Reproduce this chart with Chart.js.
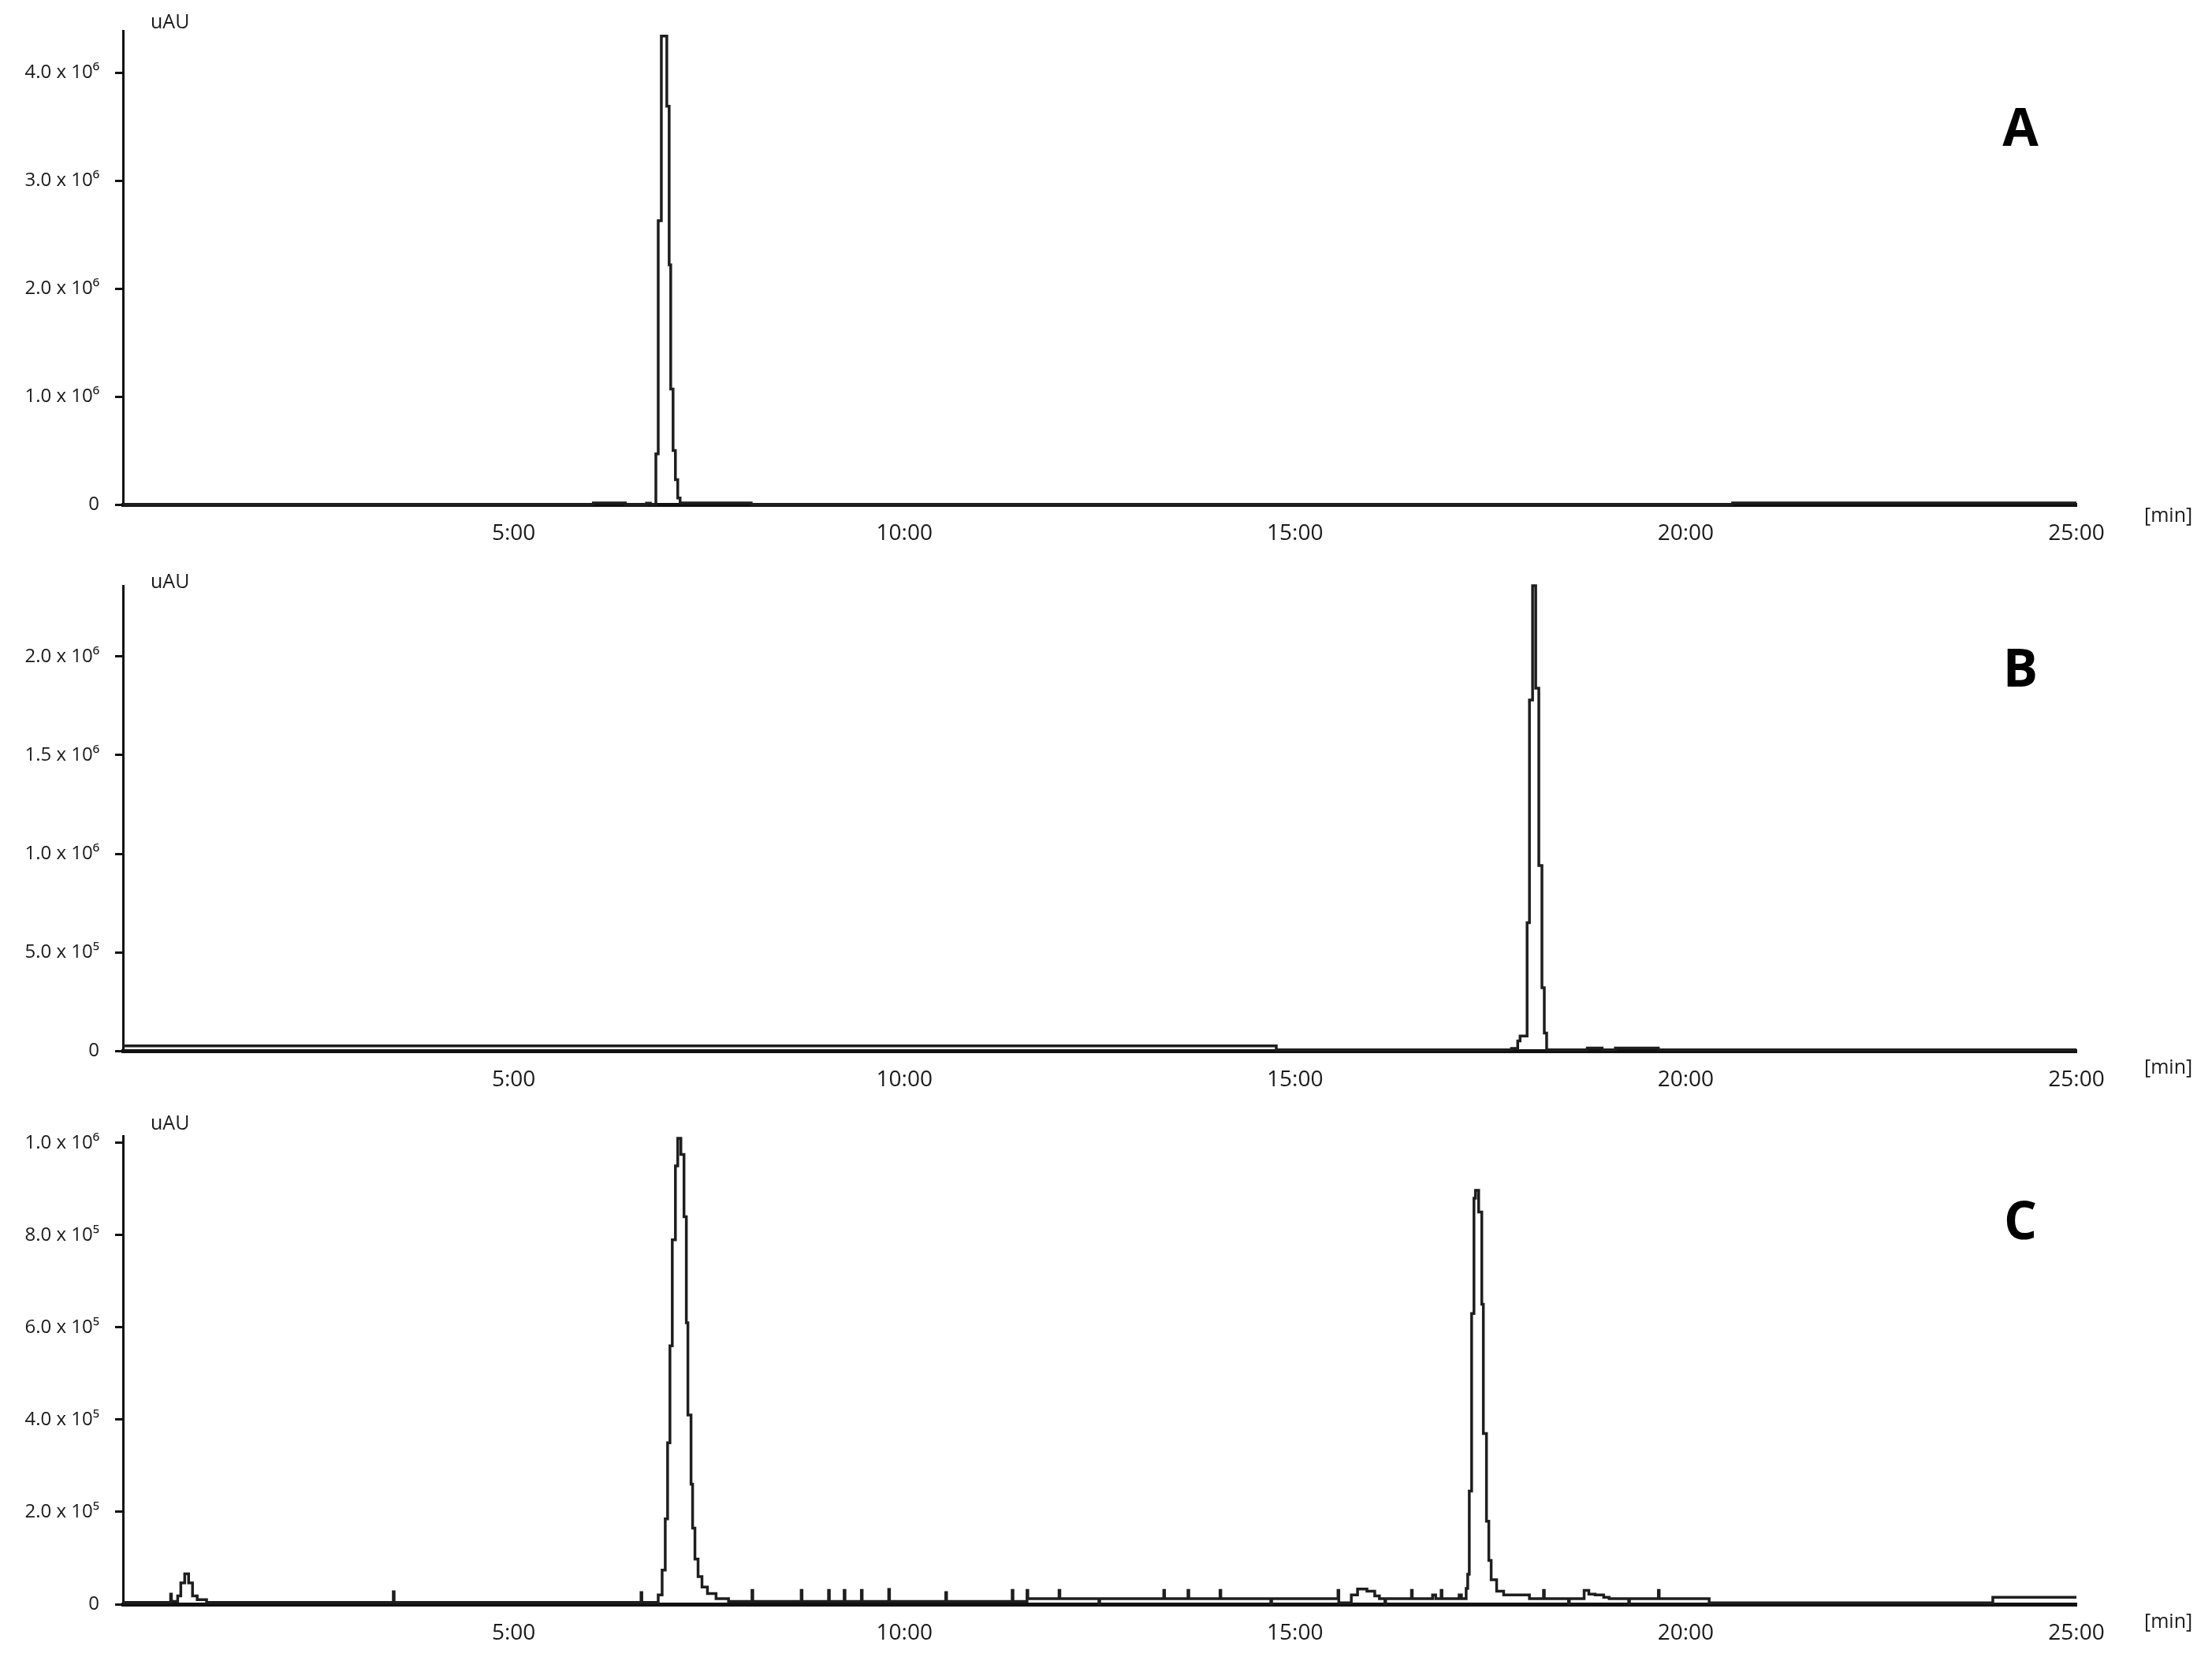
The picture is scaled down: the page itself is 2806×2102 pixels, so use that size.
<!DOCTYPE html>
<html>
<head>
<meta charset="utf-8">
<script src="https://cdn.jsdelivr.net/npm/chart.js@4.4.1/dist/chart.umd.min.js"></script>
<style>
body { margin: 0; background: #fff; width: 2806px; height: 2102px; overflow: hidden; }
canvas { position: absolute; left: 0; }
</style>
</head>
<body>
<canvas id="chartA" width="2806" height="700" style="top:0px"></canvas>
<canvas id="chartB" width="2806" height="700" style="top:700px"></canvas>
<canvas id="chartC" width="2806" height="702" style="top:1400px"></canvas>
<script>
// retention time axis (min)
const timeTicks = [5, 10, 15, 20, 25];
const timeLabels = ['5:00', '10:00', '15:00', '20:00', '25:00'];

// signal values in 10^6 uAU
const timeA = [0, 6.02, 6.43, 6.70, 6.75, 6.82, 6.85, 6.89, 6.96, 6.99, 7.01, 7.04, 7.07, 7.10, 7.13, 8.04, 20.6, 25.0];
const signalA = [0, 0.015, 0, 0.012, 0, 0.47, 2.63, 4.34, 3.69, 2.22, 1.07, 0.5, 0.23, 0.06, 0.015, 0, 0.015, 0.015];
const ticksA = [0, 1, 2, 3, 4];
const labelsA = ['0', '1.0 x 10⁶', '2.0 x 10⁶', '3.0 x 10⁶', '4.0 x 10⁶'];

const timeB = [0, 14.76, 17.77, 17.85, 17.88, 17.97, 18.00, 18.04, 18.08, 18.12, 18.16, 18.19, 18.22,
    18.74, 18.93, 19.10, 19.65, 25.0];
const signalB = [0.025, 0.005, 0.012, 0.05, 0.075, 0.65, 1.78, 2.36, 1.84, 0.94, 0.32, 0.09, 0.005,
    0.014, 0.005, 0.014, 0.005, 0.005];
const ticksB = [0, 0.5, 1, 1.5, 2];
const labelsB = ['0', '5.0 x 10⁵', '1.0 x 10⁶', '1.5 x 10⁶', '2.0 x 10⁶'];

const timeC = [0, 0.61, 0.62, 0.70, 0.74, 0.79, 0.84, 0.89, 0.95, 1.07,
    3.46, 3.47, 6.63, 6.64,
    6.85, 6.90, 6.94, 6.97, 7.00, 7.03, 7.07, 7.10, 7.14, 7.18, 7.21, 7.23, 7.27, 7.29, 7.32, 7.36, 7.41, 7.48, 7.59, 7.75,
    8.05, 8.06, 8.68, 8.69, 9.03, 9.04, 9.23, 9.24, 9.45, 9.46, 9.80, 9.81, 10.53, 10.54,
    11.38, 11.39, 11.57, 11.58, 11.98, 11.99, 12.49, 12.50, 13.32, 13.33, 13.63, 13.64, 14.04, 14.05, 14.69, 14.70,
    15.55, 15.56, 15.72, 15.80, 15.92, 16.02, 16.08, 16.15, 16.16, 16.49, 16.50, 16.76, 16.80, 16.87, 16.88, 17.10, 17.13,
    17.19, 17.21, 17.23, 17.26, 17.29, 17.31, 17.35, 17.39, 17.41, 17.45, 17.48, 17.51, 17.58, 17.67, 18.00,
    18.18, 18.19, 18.50, 18.51, 18.70, 18.76, 18.84, 18.95, 19.02, 19.27, 19.28, 19.65, 19.66,
    20.30, 23.93, 25.0];
const signalC = [0.004, 0.022, 0.006, 0.018, 0.046, 0.066, 0.046, 0.018, 0.01, 0.004,
    0.027, 0.004, 0.025, 0.004,
    0.02, 0.074, 0.185, 0.35, 0.56, 0.79, 0.95, 1.01, 0.975, 0.84, 0.61, 0.41, 0.26, 0.165, 0.098, 0.06, 0.037, 0.023, 0.012, 0.006,
    0.03, 0.006, 0.03, 0.006, 0.03, 0.006, 0.03, 0.006, 0.03, 0.006, 0.032, 0.006, 0.025, 0.006,
    0.03, 0.006, 0.03, 0.012, 0.03, 0.012, 0, 0.012, 0.03, 0.012, 0.03, 0.012, 0.03, 0.012, 0, 0.012,
    0.03, 0.003, 0.02, 0.033, 0.028, 0.018, 0.012, 0, 0.012, 0.03, 0.012, 0.02, 0.012, 0.03, 0.012, 0.02, 0.012,
    0.034, 0.065, 0.245, 0.63, 0.88, 0.897, 0.85, 0.65, 0.37, 0.18, 0.095, 0.053, 0.028, 0.02, 0.012,
    0.03, 0.012, 0, 0.012, 0.03, 0.022, 0.02, 0.015, 0.012, 0, 0.012, 0.03, 0.012,
    0.003, 0.015, 0.015];
const ticksC = [0, 0.2, 0.4, 0.6, 0.8, 1.0];
const labelsC = ['0', '2.0 x 10⁵', '4.0 x 10⁵', '6.0 x 10⁵', '8.0 x 10⁵', '1.0 x 10⁶'];

const panelText = {
    id: 'panelText',
    afterDraw(chart, args, o) {
        const ctx = chart.ctx;
        ctx.save();
        ctx.fillStyle = '#1a1a1a';
        ctx.textBaseline = 'middle';
        ctx.textAlign = 'left';
        ctx.font = '25px "Open Sans"';
        ctx.fillText('uAU', chart.chartArea.left + 35, o.unitY);
        ctx.fillText('[min]', 2720, o.minY);
        ctx.fillStyle = '#000';
        ctx.font = 'bold 66px "Open Sans"';
        ctx.textAlign = 'center';
        ctx.fillText(o.letter, 2563, o.letterY);
        ctx.restore();
    }
};

function makeChart(id, times, signal, yTicks, yLabels, yMax, p) {
    let points = times.map(function(t, i) { return {x: t, y: signal[i]}; });
    return new Chart(document.getElementById(id), {
        type: 'line',
        data: {
            datasets: [{
                data: points,
                borderColor: '#1e1e1e',
                borderWidth: 3.5,
                pointRadius: 0,
                stepped: true,
                fill: false,
                clip: 6
            }]
        },
        options: {
            responsive: false,
            animation: false,
            devicePixelRatio: 1,
            layout: {padding: {top: p.padTop, right: 172, left: 0, bottom: 0}},
            plugins: {
                legend: {display: false},
                tooltip: {enabled: false},
                panelText: p
            },
            scales: {
                x: {
                    type: 'linear', min: 0, max: 25,
                    afterBuildTicks: function(s) { s.ticks = timeTicks.map(function(v) { return {value: v}; }); },
                    afterFit: function(s) { s.height = p.xAxisH; },
                    grid: {display: false, drawTicks: false},
                    border: {display: true, color: '#111', width: 5},
                    ticks: {
                        padding: 20, color: '#1a1a1a', maxRotation: 0, autoSkip: false,
                        font: {family: 'Open Sans', size: 28},
                        callback: function(v, i) { return timeLabels[i]; }
                    }
                },
                y: {
                    type: 'linear', min: 0, max: yMax,
                    afterBuildTicks: function(s) { s.ticks = yTicks.map(function(v) { return {value: v}; }); },
                    afterFit: function(s) { s.width = 156; },
                    grid: {drawOnChartArea: false, drawTicks: true, tickLength: 10, tickWidth: 3, tickColor: '#111'},
                    border: {display: true, color: '#111', width: 3},
                    ticks: {
                        padding: 20, color: '#1a1a1a', autoSkip: false,
                        font: {family: 'Open Sans', size: 24},
                        callback: function(v, i) { return yLabels[i]; }
                    }
                }
            }
        },
        plugins: [panelText]
    });
}

makeChart('chartA', timeA, signalA, ticksA, labelsA, 4.39,
    {padTop: 39, xAxisH: 60, letter: 'A', letterY: 166, unitY: 29, minY: 655});
makeChart('chartB', timeB, signalB, ticksB, labelsB, 2.36,
    {padTop: 43, xAxisH: 67, letter: 'B', letterY: 152, unitY: 39, minY: 655});
makeChart('chartC', timeC, signalC, ticksC, labelsC, 1.015,
    {padTop: 41, xAxisH: 67, letter: 'C', letterY: 153, unitY: 26, minY: 658});
</script>
</body>
</html>
